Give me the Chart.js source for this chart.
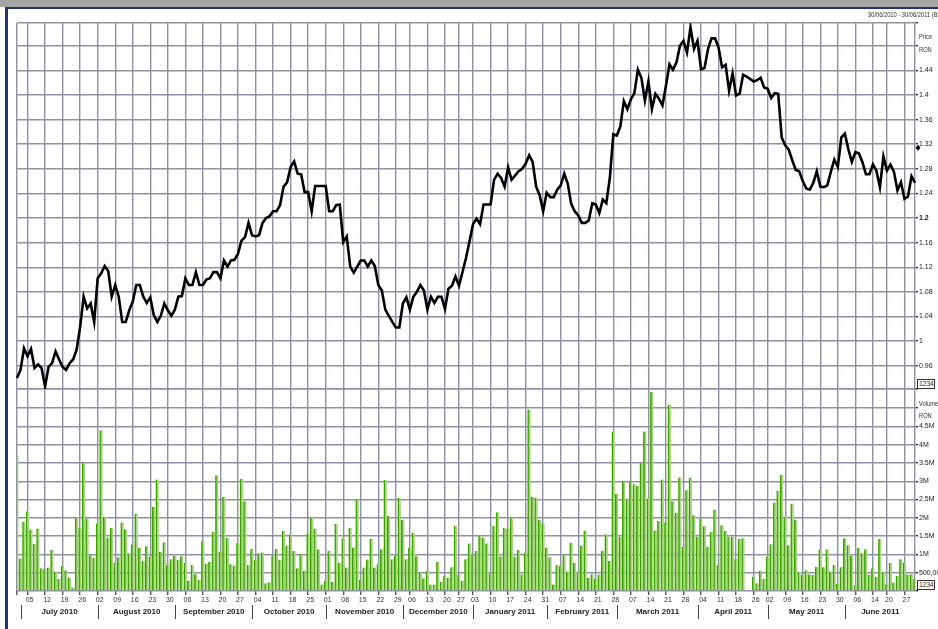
<!DOCTYPE html>
<html>
<head>
<meta charset="utf-8">
<script src="https://cdn.jsdelivr.net/npm/chart.js@4.4.1/dist/chart.umd.min.js"></script>
<style>
  html,body{margin:0;padding:0;background:#fff;overflow:hidden;}
  #wrap{position:relative;width:938px;height:629px;}
  canvas{position:absolute;left:0;top:0;}
  .ov{position:absolute;font-family:'Liberation Sans Narrow','Liberation Sans',Arial,sans-serif;color:#333;white-space:nowrap;transform-origin:0 0;transform:scaleX(0.82);}
  .box{border:1px solid #333;background:#fff;font-size:7px;line-height:8px;padding:0 1px;transform:none;letter-spacing:-0.3px;}
</style>
</head>
<body>
<div id="wrap">
  <canvas id="c" width="938" height="629"></canvas>
  <div style="position:absolute;left:0;top:0;width:938px;height:7px;background:#a6a6a6;"></div>
  <div style="position:absolute;left:5px;top:7px;width:933px;height:2px;background:#1d3478;"></div>
  <div style="position:absolute;left:5px;top:7px;width:3px;height:622px;background:#1d3478;"></div>
  <div class="ov" style="left:868px;top:11px;font-size:7px;">30/06/2010 - 30/06/2011 (BUH)</div>
  <div class="ov" style="left:919px;top:33px;font-size:7px;">Price</div>
  <div class="ov" style="left:919px;top:46px;font-size:7px;">RON</div>
  <div class="ov" style="left:919px;top:400px;font-size:7px;">Volume</div>
  <div class="ov" style="left:919px;top:412px;font-size:7px;">RON</div>
  <div class="ov box" style="left:917px;top:379px;">1234</div>
  <div class="ov box" style="left:917px;top:580px;">1234</div>
</div>
<script>
// ---- calendar (trading days) ----
const startDate = '2010-06-30';
const endDate = '2011-06-30';
const holidays = ['2010-12-01', '2010-12-24', '2010-12-31', '2011-04-25', '2011-06-13'];
const monthNames = ['July 2010', 'August 2010', 'September 2010', 'October 2010', 'November 2010', 'December 2010',
  'January 2011', 'February 2011', 'March 2011', 'April 2011', 'May 2011', 'June 2011'];

// ---- price (RON), one value per trading day ----
const price = [
  0.940, 0.953, 0.988, 0.975, 0.987, 0.956, 0.962, 0.956, 0.926, 0.958,
  0.964, 0.983, 0.970, 0.958, 0.953, 0.964, 0.970, 0.986, 1.023, 1.072,
  1.053, 1.061, 1.031, 1.102, 1.110, 1.122, 1.114, 1.072, 1.091, 1.072,
  1.031, 1.031, 1.050, 1.064, 1.091, 1.091, 1.072, 1.062, 1.071, 1.042,
  1.031, 1.041, 1.061, 1.050, 1.041, 1.051, 1.072, 1.073, 1.102, 1.091,
  1.091, 1.112, 1.091, 1.091, 1.100, 1.102, 1.112, 1.112, 1.102, 1.131,
  1.121, 1.131, 1.132, 1.142, 1.163, 1.169, 1.192, 1.172, 1.170, 1.172,
  1.192, 1.200, 1.203, 1.211, 1.211, 1.221, 1.251, 1.258, 1.283, 1.292,
  1.272, 1.271, 1.242, 1.242, 1.211, 1.252, 1.252, 1.252, 1.252, 1.211,
  1.211, 1.221, 1.222, 1.161, 1.170, 1.121, 1.111, 1.121, 1.131, 1.131,
  1.121, 1.131, 1.122, 1.091, 1.082, 1.051, 1.041, 1.031, 1.022, 1.022,
  1.061, 1.071, 1.051, 1.072, 1.080, 1.091, 1.082, 1.051, 1.072, 1.062,
  1.072, 1.072, 1.052, 1.085, 1.090, 1.105, 1.090, 1.112, 1.135, 1.162,
  1.190, 1.199, 1.190, 1.222, 1.222, 1.222, 1.262, 1.272, 1.265, 1.251,
  1.282, 1.262, 1.269, 1.276, 1.280, 1.288, 1.302, 1.291, 1.251, 1.237,
  1.211, 1.241, 1.234, 1.234, 1.246, 1.253, 1.272, 1.256, 1.223, 1.211,
  1.204, 1.192, 1.192, 1.196, 1.224, 1.222, 1.208, 1.230, 1.224, 1.265,
  1.336, 1.334, 1.349, 1.390, 1.377, 1.393, 1.403, 1.441, 1.428, 1.391,
  1.422, 1.377, 1.402, 1.394, 1.383, 1.415, 1.450, 1.441, 1.453, 1.480,
  1.488, 1.469, 1.510, 1.475, 1.488, 1.442, 1.444, 1.475, 1.492, 1.492,
  1.477, 1.445, 1.449, 1.407, 1.435, 1.399, 1.402, 1.433, 1.430, 1.426,
  1.422, 1.424, 1.428, 1.412, 1.410, 1.395, 1.403, 1.402, 1.331, 1.318,
  1.311, 1.294, 1.278, 1.276, 1.260, 1.248, 1.246, 1.257, 1.276, 1.251,
  1.250, 1.253, 1.275, 1.295, 1.283, 1.331, 1.337, 1.312, 1.291, 1.307,
  1.305, 1.291, 1.271, 1.271, 1.287, 1.277, 1.250, 1.300, 1.277, 1.287,
  1.275, 1.245, 1.258, 1.231, 1.235, 1.268, 1.257
];

// ---- volume (millions), one value per trading day ----
const volume = [
  3.71, 0.89, 1.89, 2.18, 1.68, 1.29, 1.71, 0.62, 0.60, 0.64,
  1.12, 0.53, 0.33, 0.68, 0.57, 0.37, 0.09, 2.01, 1.73, 3.51,
  1.98, 0.98, 0.91, 1.85, 4.39, 2.03, 1.46, 1.73, 0.77, 0.92,
  1.87, 1.69, 1.03, 1.27, 2.12, 1.18, 0.82, 1.22, 0.93, 2.30,
  3.05, 1.07, 1.33, 0.71, 0.87, 0.96, 0.85, 0.95, 0.77, 0.27,
  0.71, 0.46, 0.30, 1.36, 0.75, 0.80, 1.62, 3.16, 1.07, 2.57,
  1.45, 0.73, 0.69, 1.32, 3.07, 2.45, 0.71, 1.15, 0.85, 1.03,
  1.05, 0.21, 0.24, 0.96, 1.15, 0.85, 1.64, 1.24, 1.55, 1.09,
  0.62, 1.01, 0.55, 1.57, 2.01, 1.71, 1.14, 0.18, 0.27, 1.09,
  0.25, 1.83, 0.77, 1.44, 0.64, 1.73, 1.19, 2.51, 0.30, 0.64,
  0.86, 1.42, 0.64, 0.73, 1.14, 3.03, 2.05, 0.87, 0.96, 2.55,
  1.95, 0.87, 1.18, 1.59, 0.95, 0.51, 0.35, 0.55, 0.18, 0.18,
  0.80, 0.25, 0.41, 0.36, 0.65, 1.78, 0.45, 0.27, 0.87, 1.30,
  0.98, 1.09, 1.51, 1.46, 1.30, 0.48, 1.78, 2.15, 0.95, 1.73,
  1.71, 2.00, 0.94, 1.12, 0.46, 1.05, 4.96, 2.57, 2.55, 1.94,
  1.85, 1.19, 0.92, 0.18, 0.71, 0.68, 0.98, 0.53, 1.32, 0.77,
  0.48, 1.24, 1.65, 0.36, 0.46, 0.33, 0.45, 1.09, 1.55, 0.82,
  4.36, 2.65, 1.48, 2.98, 2.50, 2.98, 2.92, 2.87, 3.50, 4.36,
  2.53, 5.44, 1.65, 1.91, 3.05, 1.87, 5.09, 2.45, 2.14, 3.10,
  1.21, 2.75, 3.10, 2.07, 1.48, 1.98, 1.77, 1.21, 1.62, 2.23,
  0.71, 1.80, 1.64, 1.48, 1.48, 0.87, 1.42, 1.44, null, null,
  0.39, 0.21, 0.55, 0.33, 0.94, 1.28, 2.42, 2.74, 3.18, 2.03,
  1.25, 2.39, 1.95, 0.51, 0.44, 0.57, 0.46, 0.44, 0.66, 1.14,
  0.65, 1.14, 0.53, 0.71, 0.19, 0.65, 1.44, 1.25, 0.96, 0.16,
  1.18, 1.03, 1.14, 0.44, 0.62, 0.39, 1.42, 0.51, 0.18, 0.77,
  0.23, 0.41, 0.87, 0.78, 0.45, 0.46, 0.33
];

// ---- axis ticks ----
const priceTicks = [0.96, 1, 1.04, 1.08, 1.12, 1.16, 1.2, 1.24, 1.28, 1.32, 1.36, 1.4, 1.44, 1.48];
const priceRange = [0.922, 1.517];
const volumeTicks = [0, 0.5, 1, 1.5, 2, 2.5, 3, 3.5, 4, 4.5, 5];
const volumeRange = [0, 5.52];
const priceMarker = 1.314;

// build trading-day categories from the calendar
function buildDates() {
  const out = [];
  let d = new Date(startDate + 'T00:00:00Z');
  const end = new Date(endDate + 'T00:00:00Z');
  while (d <= end) {
    const dow = d.getUTCDay();
    const s = d.toISOString().slice(0, 10);
    if (dow !== 0 && dow !== 6 && !holidays.includes(s)) out.push(s);
    d = new Date(d.getTime() + 86400000);
  }
  return out;
}
const dates = buildDates();
const dow = s => new Date(s + 'T00:00:00Z').getUTCDay();
const weekStarts = [0];
for (let i = 1; i < dates.length; i++) if (dow(dates[i]) <= dow(dates[i - 1])) weekStarts.push(i);
const monthStarts = [];
for (let i = 1; i < dates.length; i++) if (dates[i].slice(0, 7) !== dates[i - 1].slice(0, 7)) monthStarts.push(i);

const FF = "'Liberation Sans Narrow','Liberation Sans',Arial,sans-serif";
const GRID = '#918fa5';

const extras = {
  id: 'extras',
  afterDraw(chart) {
    const ctx = chart.ctx, xs = chart.scales.x, ca = chart.chartArea;
    ctx.save();
    ctx.strokeStyle = '#444'; ctx.lineWidth = 1;
    ctx.fillStyle = '#222';
    ctx.font = 'bold 8px ' + FF;
    ctx.textAlign = 'center'; ctx.textBaseline = 'middle';
    monthStarts.forEach((idx, k) => {
      const sx = Math.round(xs.getPixelForValue(idx)) + 0.5;
      ctx.beginPath(); ctx.moveTo(sx, 605); ctx.lineTo(sx, 619); ctx.stroke();
      const nx = k + 1 < monthStarts.length ? xs.getPixelForValue(monthStarts[k + 1]) : ca.right;
      if (monthNames[k]) ctx.fillText(monthNames[k], (sx + nx) / 2, 612);
    });
    // diamond marker on the price axis
    const yp = chart.scales.yp;
    const my = yp.getPixelForValue(priceMarker), mx = ca.right + 3;
    ctx.fillStyle = '#000';
    ctx.beginPath();
    ctx.moveTo(mx, my - 3); ctx.lineTo(mx + 2.5, my); ctx.lineTo(mx, my + 3); ctx.lineTo(mx - 2.5, my);
    ctx.closePath(); ctx.fill();
    ctx.restore();
  }
};

new Chart(document.getElementById('c'), {
  type: 'bar',
  data: {
    labels: dates,
    datasets: [
      {
        type: 'line', label: 'Price', data: price, yAxisID: 'yp',
        borderColor: '#000', borderWidth: 2.6, pointRadius: 0, tension: 0, order: 0
      },
      {
        type: 'bar', label: 'Volume', data: volume, yAxisID: 'yv',
        backgroundColor: '#a4d977', borderColor: '#3a9e00',
        borderWidth: { left: 2, right: 0, top: 0, bottom: 0 }, borderSkipped: false,
        barThickness: 3, order: 1
      }
    ]
  },
  options: {
    responsive: false, animation: false, devicePixelRatio: 1,
    layout: { padding: { left: 17, top: 23, right: 0, bottom: 0 } },
    plugins: { legend: { display: false }, tooltip: { enabled: false } },
    scales: {
      x: {
        type: 'category', offset: false,
        grid: { offset: false, color: GRID, lineWidth: 1.4, drawTicks: true, tickLength: 4, tickColor: '#555' },
        border: { display: false },
        afterBuildTicks: a => { a.ticks = weekStarts.map(v => ({ value: v })); },
        afterFit: a => { a.height = 38; },
        ticks: {
          autoSkip: false, maxRotation: 0, minRotation: 0, padding: 1, labelOffset: 2,
          color: '#333', font: { size: 7, family: FF },
          callback: function (v) { return v === 0 ? '' : this.getLabelForValue(v).slice(8); }
        }
      },
      yp: {
        type: 'linear', position: 'right', stack: 'panels', stackWeight: 366,
        min: priceRange[0], max: priceRange[1],
        afterBuildTicks: a => { a.ticks = [priceRange[0], ...priceTicks, priceRange[1]].map(v => ({ value: v })); },
        afterFit: a => { a.width = 23; },
        grid: { color: GRID, lineWidth: 1.4, drawTicks: true, tickLength: 3, tickColor: '#333' },
        border: { display: true, color: GRID, width: 1.4 },
        ticks: {
          autoSkip: false, padding: 1, color: '#222',
          font: c => ({ size: 7, family: FF, weight: (c.tick && c.tick.value === 1.2) ? 'bold' : 'normal' }),
          callback: v => (priceTicks.includes(v) && v !== 1.48) ? String(v) : ''
        }
      },
      yv: {
        type: 'linear', position: 'right', stack: 'panels', stackWeight: 202,
        min: volumeRange[0], max: volumeRange[1],
        afterBuildTicks: a => { a.ticks = [...volumeTicks, volumeRange[1]].map(v => ({ value: v })); },
        afterFit: a => { a.width = 23; },
        grid: { color: GRID, lineWidth: 1.4, drawTicks: true, tickLength: 3, tickColor: '#333' },
        border: { display: true, color: GRID, width: 1.4 },
        ticks: {
          autoSkip: false, padding: 1, color: '#222', font: { size: 7, family: FF },
          callback: v => {
            if (v === 0.5) return '500,000';
            if (v === 0 || v === 5 || v === volumeRange[1]) return '';
            return v + 'M';
          }
        }
      }
    }
  },
  plugins: [extras]
});
</script>
</body>
</html>
